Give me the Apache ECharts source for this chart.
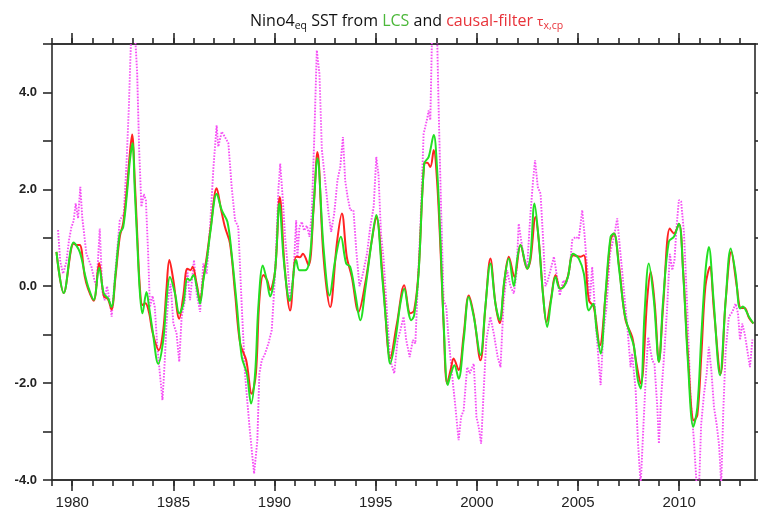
<!DOCTYPE html>
<html>
<head>
<meta charset="utf-8">
<script src="https://cdn.jsdelivr.net/npm/echarts@6/dist/echarts.min.js"></script>
<style>html,body{margin:0;padding:0;background:#fff}#c{width:758px;height:521px}</style>
</head>
<body>
<div id="c"></div>
<script>
// ---- data ----
const lcsYears = [1979.22,1979.58,1980.07,1980.37,1980.62,1980.78,1981.06,1981.33,1981.56,1981.77,1981.94,1982.14,1982.35,1982.52,1982.72,1982.85,1982.98,1983.09,1983.21,1983.34,1983.47,1983.67,1983.80,1983.97,1984.25,1984.50,1984.66,1984.83,
1985.08,1985.29,1985.49,1985.69,1985.82,1985.99,1986.15,1986.32,1986.48,1986.65,1986.84,1987.14,1987.39,1987.67,1987.88,1988.13,1988.38,1988.63,1988.84,1989.04,1989.20,1989.42,1989.62,1989.78,1990.03,1990.24,1990.44,1990.64,1990.75,
1991.07,1991.23,1991.51,1991.73,1991.93,1992.12,1992.42,1992.72,1993.00,1993.28,1993.54,1993.74,1993.99,1994.24,1994.48,1994.81,1995.03,1995.31,1995.56,1995.72,1995.97,1996.22,1996.41,1996.63,1996.75,1996.90,
1997.12,1997.40,1997.62,1997.87,1998.03,1998.20,1998.36,1998.56,1998.72,1998.89,1999.10,1999.35,1999.60,1999.85,2000.18,2000.42,2000.67,2000.92,2001.13,2001.36,2001.58,2001.83,2001.99,2002.16,2002.49,2002.65,2002.85,
2003.06,2003.28,2003.48,2003.67,2003.89,2004.10,2004.30,2004.50,2004.76,2005.04,2005.29,2005.54,2005.75,2005.92,2006.12,2006.36,2006.61,2006.78,2007.02,2007.30,2007.57,2007.77,2007.96,2008.10,
2008.29,2008.50,2008.75,2009.00,2009.21,2009.49,2009.74,2009.99,2010.20,2010.43,2010.70,2010.90,2011.10,2011.30,2011.47,2011.69,2012.02,2012.30,2012.55,2012.79,2013.01,2013.15,2013.30,2013.45,2013.67];
const lcsValues = [0.71,-0.14,0.90,0.71,0.26,0.00,-0.28,0.38,-0.15,-0.25,-0.43,0.26,1.09,1.22,1.98,2.60,2.95,2.00,0.95,-0.10,-0.56,-0.12,-0.43,-0.91,-1.60,-1.11,-0.29,0.19,
-0.15,-0.56,-0.36,0.16,0.12,0.23,0.00,-0.36,0.12,0.54,1.16,1.91,1.57,1.33,0.67,-0.36,-1.46,-1.80,-2.42,-1.80,-0.43,0.43,0.12,-0.21,0.33,1.71,0.61,-0.15,-0.30,
0.54,0.33,0.33,0.54,1.64,2.64,0.81,-0.19,0.54,1.02,0.47,0.40,-0.15,-0.70,-0.08,0.95,1.47,0.26,-0.98,-1.60,-1.11,-0.36,-0.05,-0.56,-0.70,-0.60,
0.26,2.53,2.67,3.12,2.46,0.95,-0.77,-2.04,-1.80,-1.63,-1.91,-1.11,-0.22,-0.63,-1.42,-0.43,0.47,-0.36,-0.70,0.12,0.57,0.00,0.54,0.85,0.36,0.61,1.71,
0.95,-0.22,-0.84,-0.29,0.19,-0.05,-0.01,0.19,0.67,0.57,0.26,-0.50,-0.36,-0.91,-1.39,-0.15,1.02,1.09,0.40,-0.56,-0.98,-1.25,-1.94,-2.11,
-0.56,0.47,-0.29,-1.56,-0.29,0.92,1.02,1.29,0.26,-1.53,-2.90,-2.50,-1.00,0.30,0.81,-0.22,-1.84,-0.29,0.78,0.26,-0.46,-0.42,-0.50,-0.63,-0.77];

const cfYears = [1979.22,1979.58,1980.07,1980.22,1980.37,1980.62,1980.78,1981.06,1981.33,1981.56,1981.77,1981.94,1982.14,1982.35,1982.52,1982.72,1982.85,1982.96,1983.09,1983.21,1983.34,1983.47,1983.62,1983.80,1983.97,1984.28,1984.50,1984.66,1984.80,
1985.00,1985.29,1985.49,1985.69,1985.85,1985.95,1986.15,1986.32,1986.48,1986.65,1986.84,1987.14,1987.35,1987.55,1987.80,1988.05,1988.30,1988.60,1988.87,1989.08,1989.25,1989.45,1989.64,1989.78,1990.03,1990.26,1990.50,1990.77,
1991.07,1991.25,1991.40,1991.68,1991.93,1992.12,1992.42,1992.75,1993.08,1993.33,1993.57,1993.82,1994.15,1994.48,1994.81,1995.03,1995.38,1995.72,1996.05,1996.41,1996.71,1996.90,
1997.12,1997.40,1997.55,1997.70,1997.87,1998.03,1998.20,1998.36,1998.53,1998.72,1998.85,1999.10,1999.35,1999.60,1999.85,2000.18,2000.42,2000.67,2000.92,2001.13,2001.36,2001.58,2001.86,2002.16,2002.49,2002.65,2002.90,
2003.06,2003.28,2003.44,2003.67,2003.89,2004.13,2004.30,2004.50,2004.76,2005.13,2005.29,2005.54,2005.78,2006.08,2006.36,2006.61,2006.78,2007.02,2007.35,2007.68,2007.85,2008.10,
2008.43,2008.59,2008.80,2009.00,2009.21,2009.54,2009.74,2009.99,2010.20,2010.43,2010.73,2010.90,2011.10,2011.30,2011.52,2011.72,2012.05,2012.30,2012.58,2012.85,2013.05,2013.24,2013.45,2013.67];
const cfValues = [0.71,-0.14,0.88,0.85,0.85,0.20,-0.05,-0.30,0.48,-0.20,-0.27,-0.48,0.20,1.02,1.30,2.10,2.75,3.13,2.20,1.10,0.00,-0.39,-0.35,-0.55,-0.95,-1.32,-0.90,-0.05,0.54,
0.12,-0.67,-0.20,0.36,0.33,0.40,0.05,-0.29,0.15,0.61,1.20,2.02,1.60,1.22,0.88,-0.15,-1.18,-1.53,-2.22,-1.80,-0.29,0.23,0.12,-0.08,0.33,1.84,0.40,-0.50,
0.61,0.60,0.67,0.43,1.60,2.77,0.61,-0.43,0.88,1.50,0.61,0.19,-0.53,0.05,0.95,1.43,0.00,-1.49,-0.77,0.02,-0.56,-0.50,
0.30,2.53,2.55,2.46,2.81,2.20,0.80,-0.80,-2.01,-1.70,-1.49,-1.73,-1.00,-0.19,-0.60,-1.53,-0.45,0.57,-0.36,-0.76,0.10,0.61,0.19,0.85,0.36,0.54,1.43,
0.95,-0.20,-0.74,-0.25,0.23,-0.05,0.00,0.20,0.64,0.61,0.64,-0.29,-0.43,-1.22,-0.20,0.95,1.09,0.45,-0.70,-1.05,-1.50,-2.01,
-0.22,0.30,-0.40,-1.56,-0.40,1.19,1.09,1.29,0.30,-1.40,-2.77,-2.66,-1.40,0.00,0.40,-0.50,-1.80,-0.30,0.71,0.00,-0.45,-0.45,-0.65,-0.77];

const obsYears = [1979.30,1979.41,1979.55,1979.71,1979.84,1979.96,1980.07,1980.17,1980.29,1980.40,1980.50,1980.70,1980.95,1981.11,1981.20,1981.36,1981.49,1981.60,1981.72,1981.85,1981.95,1982.19,1982.35,1982.55,1982.68,1982.80,1982.92,1983.09,1983.21,1983.31,1983.42,1983.54,1983.64,1983.75,1983.84,1983.97,1984.08,1984.20,1984.33,1984.46,1984.58,1984.66,1984.76,1984.86,
1985.00,1985.16,1985.29,1985.41,1985.57,1985.69,1985.82,1986.02,1986.15,1986.32,1986.48,1986.65,1986.81,1986.98,1987.14,1987.22,1987.39,1987.55,1987.72,1987.88,1988.05,1988.21,1988.38,1988.54,1988.76,1988.99,1989.15,1989.25,1989.37,1989.53,1989.70,1989.86,1990.03,1990.19,1990.28,1990.41,1990.52,1990.64,
1990.77,1990.94,1991.07,1991.13,1991.23,1991.35,1991.46,1991.60,1991.73,1991.84,1991.96,1992.09,1992.22,1992.34,1992.50,1992.67,1992.80,1992.95,1993.11,1993.25,1993.38,1993.49,1993.61,1993.74,1993.90,1994.04,1994.20,1994.37,1994.57,1994.73,1994.90,1995.03,1995.14,1995.26,1995.39,1995.56,1995.72,1995.92,1996.08,1996.22,1996.38,1996.51,1996.68,
1996.84,1996.96,1997.07,1997.21,1997.37,1997.53,1997.62,1997.70,1997.78,1997.90,1998.03,1998.11,1998.23,1998.36,1998.49,1998.61,1998.77,1998.94,1999.10,1999.22,1999.35,1999.52,1999.65,1999.85,1999.98,2000.09,2000.21,2000.34,2000.47,2000.67,2000.84,2001.03,2001.17,2001.33,2001.50,2001.66,2001.83,2001.96,2002.07,2002.19,2002.32,2002.49,2002.65,
2002.78,2002.88,2003.01,2003.15,2003.28,2003.39,2003.51,2003.64,2003.81,2003.94,2004.10,2004.27,2004.43,2004.60,2004.71,2004.88,2005.04,2005.21,2005.32,2005.46,2005.59,2005.70,2005.82,2005.92,2006.03,2006.12,2006.25,2006.41,2006.58,2006.78,2006.94,2007.07,2007.24,2007.44,2007.60,2007.68,2007.85,2007.96,2008.10,
2008.24,2008.36,2008.47,2008.56,2008.67,2008.78,2008.92,2009.00,2009.11,2009.25,2009.41,2009.54,2009.66,2009.77,2009.87,2009.99,2010.10,2010.24,2010.40,2010.57,2010.73,2010.86,2010.98,2011.09,2011.23,2011.36,2011.47,2011.59,2011.72,2011.85,2011.98,2012.08,2012.18,2012.30,2012.46,2012.63,2012.79,2012.91,2013.01,2013.12,2013.24,2013.37,2013.50,2013.62];
const obsValues = [1.16,0.50,0.26,0.50,0.95,1.22,1.35,1.71,1.40,2.05,1.40,0.67,0.40,0.10,0.00,1.19,-0.10,-0.29,0.00,-0.30,-0.63,0.60,1.36,1.50,2.50,3.70,5.30,5.30,4.40,2.80,1.64,1.90,1.78,0.70,-0.43,-0.20,-0.43,-1.20,-1.80,-2.35,-1.50,-0.77,-0.20,0.05,
-0.77,-0.98,-1.56,-0.63,-0.29,0.33,-0.29,0.54,-0.15,-0.53,0.47,0.26,1.22,2.46,3.32,2.88,3.19,3.08,2.95,2.05,1.36,1.22,-0.43,-1.80,-2.90,-3.87,-3.18,-1.80,-1.53,-1.39,-1.18,-0.91,0.26,1.98,2.53,1.78,1.02,0.47,
-0.29,0.26,1.36,0.60,1.22,1.33,1.15,1.25,1.02,1.50,3.01,4.87,4.39,2.81,2.19,1.50,1.12,1.50,2.19,2.46,3.08,2.19,1.85,1.57,1.57,0.74,0.00,0.26,0.67,1.22,1.64,2.67,2.30,1.09,0.57,-0.56,-1.53,-1.80,-1.11,-0.91,-0.63,-1.11,-1.46,
-1.11,-1.18,-0.07,1.22,3.15,3.43,3.63,3.43,5.10,5.30,5.30,3.70,1.64,-0.29,-0.43,-1.11,-1.80,-2.49,-3.18,-2.70,-2.56,-1.67,-1.80,-1.60,-2.70,-2.90,-3.25,-2.15,-1.11,-0.63,-0.98,-1.46,-1.67,-0.29,0.33,0.00,-0.15,0.26,1.29,0.95,0.61,0.40,1.50,
2.19,2.60,2.05,1.91,0.95,0.00,0.12,0.33,0.61,0.26,-0.19,0.12,0.05,0.40,0.95,1.02,0.98,1.57,1.09,0.33,-0.29,0.40,-0.35,-0.98,-1.60,-2.04,-0.98,-0.43,0.67,1.02,1.40,0.81,0.05,-0.84,-1.67,-1.39,-2.15,-3.18,-4.10,
-2.84,-1.80,-1.05,-1.02,-1.53,-1.60,-2.49,-3.25,-2.30,-1.46,-0.43,0.67,0.33,0.54,1.22,1.78,1.75,1.09,-0.43,-2.35,-3.18,-4.07,-4.20,-2.84,-2.22,-1.80,-1.25,-1.73,-2.49,-2.84,-3.30,-4.10,-2.60,-1.32,-0.63,-0.53,-0.36,-0.56,-1.11,-0.77,-0.98,-1.32,-1.67,-1.10];

// axis ticks / labels
const majorYears = [1980, 1985, 1990, 1995, 2000, 2005, 2010];
const minorYears = [];
for (let y = 1979; y <= 2013; y++) minorYears.push(y);
const yLabelValues = [-4, -2, 0, 2, 4];

const X_MIN = 1979, X_MAX = 2013.75;

function zip(xs, ys) { return xs.map((x, i) => [x, ys[i]]); }

const chart = echarts.init(document.getElementById('c'), null, { renderer: 'canvas' });

const axisLineStyle = { color: '#2a2a2a', width: 1.6 };
const labelFont = { fontFamily: 'Liberation Sans, Arial, sans-serif', color: '#222' };

function xAxisDef(pos, withLabels, ticks, len) {
  return {
    type: 'value', position: pos, min: X_MIN, max: X_MAX, gridIndex: 0,
    axisLine: { show: true, onZero: false, lineStyle: axisLineStyle },
    axisTick: { show: true, inside: false, length: len, customValues: ticks, lineStyle: axisLineStyle },
    axisLabel: withLabels ? Object.assign({ show: true, customValues: majorYears, fontSize: 15, margin: 15, formatter: v => String(Math.round(v)) }, labelFont) : { show: false },
    splitLine: { show: false }
  };
}

const tf = { fontFamily: 'Open Sans', fontWeight: 'normal', lineHeight: 20, verticalAlign: 'bottom' };
const option = {
  animation: false,
  backgroundColor: '#fff',
  title: {
    left: 245, top: 4,
    text: '{b|Nino4}{sub|eq}{b| SST from }{g|LCS}{b| and }{r|causal-filter }{rt|τ}{rsub|x,cp}',
    textStyle: {
      fontWeight: 'normal',
      rich: {
        b: Object.assign({ fontSize: 16, color: '#111' }, tf),
        sub: Object.assign({ fontSize: 10.5, color: '#111', padding: [0, 0, -3, 0] }, tf),
        g: Object.assign({ fontSize: 16, color: '#4cb83a' }, tf),
        r: Object.assign({ fontSize: 16, color: '#e8333a' }, tf),
        rt: Object.assign({ fontSize: 13.5, color: '#e8333a' }, tf),
        rsub: Object.assign({ fontSize: 10.5, color: '#e8333a', padding: [0, 0, -3, 0] }, tf)
      }
    }
  },
  grid: { left: 52, top: 44, width: 703, height: 436, containLabel: false },
  xAxis: [
    xAxisDef('bottom', true, majorYears, 11),
    xAxisDef('bottom', false, minorYears, 6),
    xAxisDef('top', false, majorYears, 11),
    xAxisDef('top', false, minorYears, 6)
  ],
  yAxis: [
    {
      type: 'value', position: 'left', min: -4, max: 5, interval: 1,
      axisLine: { show: true, onZero: false, lineStyle: axisLineStyle },
      axisTick: { show: true, length: 9, lineStyle: axisLineStyle },
      axisLabel: Object.assign({ show: true, customValues: yLabelValues, fontSize: 13, fontWeight: 'bold', margin: 15, formatter: v => v.toFixed(1) }, labelFont),
      splitLine: { show: false }
    },
    {
      type: 'value', position: 'right', min: -4, max: 5, interval: 1,
      axisLine: { show: true, onZero: false, lineStyle: axisLineStyle },
      axisTick: { show: true, length: 6, lineStyle: axisLineStyle },
      axisLabel: { show: false },
      splitLine: { show: false }
    }
  ],
  series: [
    {
      name: 'obs', type: 'line', xAxisIndex: 0, yAxisIndex: 0, data: zip(obsYears, obsValues),
      showSymbol: false, symbol: 'none', clip: true,
      lineStyle: { color: '#f550f5', width: 1.9, type: [1.6, 1.4] }
    },
    {
      name: 'causal', type: 'line', xAxisIndex: 0, yAxisIndex: 0, data: zip(cfYears, cfValues),
      showSymbol: false, symbol: 'none', smooth: 0.35, clip: true,
      lineStyle: { color: '#ff2222', width: 2 }
    },
    {
      name: 'LCS', type: 'line', xAxisIndex: 0, yAxisIndex: 0, data: zip(lcsYears, lcsValues),
      showSymbol: false, symbol: 'none', smooth: 0.35, clip: true,
      lineStyle: { color: '#22e022', width: 2 }
    }
  ]
};
chart.setOption(option);
</script>
</body>
</html>
